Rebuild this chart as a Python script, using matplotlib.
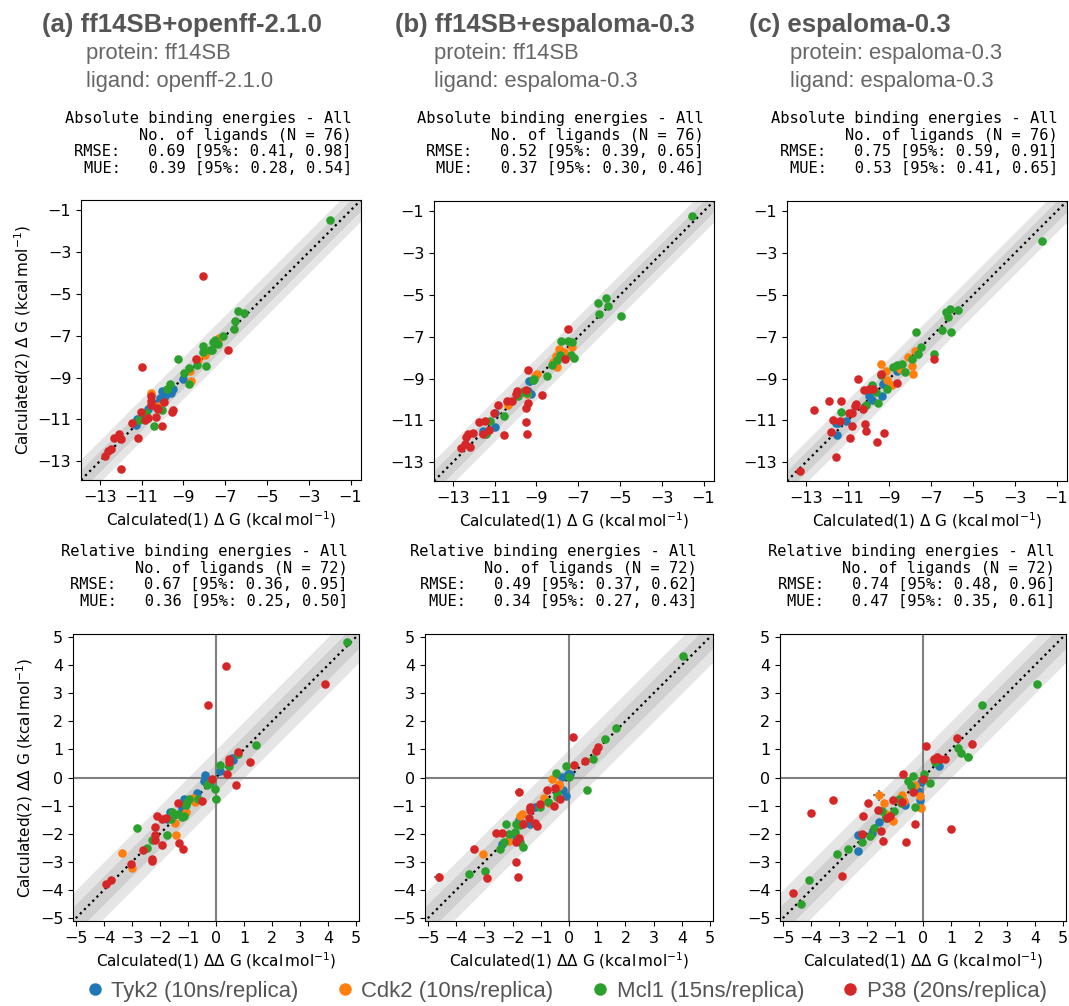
import matplotlib
matplotlib.use("Agg")
import matplotlib.pyplot as plt
from matplotlib.lines import Line2D

# ---------------------------------------------------------------- data
series_names = ["Tyk2", "Cdk2", "Mcl1", "P38"]
series_labels = ["Tyk2 (10ns/replica)", "Cdk2 (10ns/replica)",
                 "Mcl1 (15ns/replica)", "P38 (20ns/replica)"]
series_colors = ["#1f77b4", "#ff7f0e", "#2ca02c", "#d62728"]

panel_titles = ["(a) ff14SB+openff-2.1.0", "(b) ff14SB+espaloma-0.3", "(c) espaloma-0.3"]
protein_ff = ["ff14SB", "ff14SB", "espaloma-0.3"]
ligand_ff = ["openff-2.1.0", "espaloma-0.3", "espaloma-0.3"]

n_abs = 76
n_rel = 72
# RMSE, lower, upper / MUE, lower, upper
abs_rmse = [(0.69, 0.41, 0.98), (0.52, 0.39, 0.65), (0.75, 0.59, 0.91)]
abs_mue = [(0.39, 0.28, 0.54), (0.37, 0.30, 0.46), (0.53, 0.41, 0.65)]
rel_rmse = [(0.67, 0.36, 0.95), (0.49, 0.37, 0.62), (0.74, 0.48, 0.96)]
rel_mue = [(0.36, 0.25, 0.50), (0.34, 0.27, 0.43), (0.47, 0.35, 0.61)]

# (calc1, calc2[, uncertainty]) in kcal/mol
abs_a_tyk2 = [(-9.04, -9.06), (-10.0, -9.65), (-9.51, -9.54), (-9.61, -9.73), (-9.89, -9.89),
              (-10.13, -9.97), (-10.28, -10.21), (-10.70, -10.50), (-10.98, -10.74),
              (-11.21, -10.98), (-11.29, -11.25)]
abs_a_cdk2 = [(-7.29, -7.10), (-8.00, -7.79), (-7.95, -7.93), (-8.28, -8.17), (-8.70, -8.70),
              (-8.65, -9.14), (-10.55, -9.73), (-10.20, -10.37)]
abs_a_mcl1 = [(-1.98, -1.48), (-6.40, -5.83), (-6.09, -5.91), (-6.51, -6.31), (-6.56, -6.67),
              (-7.10, -7.02), (-7.33, -7.37), (-7.49, -7.18), (-7.57, -7.31), (-7.64, -7.66),
              (-7.72, -7.69), (-8.06, -7.50), (-8.08, -7.79), (-7.92, -8.46), (-9.27, -8.09),
              (-8.34, -8.38), (-8.73, -8.54), (-8.96, -8.78), (-9.63, -9.30), (-9.77, -9.54),
              (-8.73, -9.29), (-10.02, -10.56), (-10.42, -11.33), (-11.14, -11.01), (-10.80, -10.70)]
abs_a_p38 = [(-8.08, -4.14), (-10.98, -8.49), (-6.87, -7.69), (-8.42, -8.11), (-10.55, -9.89),
             (-10.55, -10.13), (-10.55, -10.29), (-9.93, -10.16), (-11.01, -10.66), (-10.28, -10.45),
             (-10.20, -10.52), (-9.51, -10.53), (-9.55, -10.66), (-10.67, -10.93), (-10.83, -11.01),
             (-10.33, -10.90), (-10.00, -11.33), (-11.45, -11.17), (-11.17, -11.88), (-12.30, -11.88),
             (-12.07, -11.72), (-11.99, -11.93), (-12.46, -12.44), (-12.61, -12.52), (-12.77, -12.73),
             (-11.99, -13.35)]

abs_b_tyk2 = [(-9.36, -9.13), (-9.26, -9.73), (-9.39, -9.57), (-9.63, -9.65), (-9.15, -9.06),
              (-10.98, -10.66), (-10.98, -11.33), (-11.54, -11.49)]
abs_b_cdk2 = [(-7.30, -7.50), (-7.91, -7.58), (-7.70, -7.74), (-8.07, -7.93), (-8.03, -8.46),
              (-8.19, -8.19), (-8.99, -8.78), (-9.07, -8.86), (-9.47, -9.73), (-10.34, -10.24)]
abs_b_mcl1 = [(-1.54, -1.21), (-5.69, -5.16), (-6.04, -5.38), (-5.57, -5.54), (-5.99, -5.91),
              (-4.96, -6.02), (-7.80, -7.22), (-7.48, -7.22), (-7.29, -7.26), (-7.35, -7.85),
              (-7.19, -8.03), (-7.88, -7.85), (-8.03, -8.09), (-8.27, -8.35), (-8.51, -8.89),
              (-9.10, -9.02), (-9.18, -9.06), (-9.58, -9.57), (-9.47, -9.69), (-9.86, -9.84),
              (-10.53, -10.77), (-11.22, -11.01), (-11.41, -11.65)]
abs_b_p38 = [(-7.48, -6.63, 0.12), (-7.64, -8.06), (-8.75, -9.78), (-9.42, -8.59), (-9.51, -9.54),
             (-9.94, -9.57), (-9.99, -9.73), (-10.42, -10.05), (-10.18, -10.08), (-10.82, -10.24),
             (-9.42, -10.16), (-9.51, -10.40), (-11.01, -10.66), (-9.51, -11.06), (-9.47, -11.65),
             (-10.53, -11.68), (-11.27, -11.44), (-11.46, -11.04), (-11.76, -11.10), (-12.01, -11.60),
             (-12.25, -11.65), (-12.36, -11.80), (-12.20, -12.28), (-12.62, -12.33), (-12.41, -12.12),
             (-11.54, -11.65)]

abs_c_tyk2 = [(-8.63, -8.65), (-9.26, -9.19), (-9.31, -9.27), (-9.98, -9.83), (-9.82, -10.04),
              (-9.34, -9.83), (-11.06, -11.03), (-11.57, -11.13), (-11.44, -11.11), (-11.52, -11.69)]
abs_c_cdk2 = [(-9.39, -8.31, 0.12), (-8.12, -7.96), (-7.79, -7.69), (-7.91, -8.39), (-7.88, -8.76),
              (-8.47, -8.52), (-9.18, -8.65), (-9.11, -9.05), (-8.87, -9.29)]
abs_c_mcl1 = [(-1.68, -2.41), (-6.12, -5.67), (-5.73, -5.72), (-6.29, -5.83), (-6.20, -6.04),
              (-6.48, -6.65), (-6.05, -6.76), (-7.74, -6.79), (-7.51, -7.48), (-7.64, -7.83),
              (-6.88, -7.80), (-7.94, -8.04), (-8.42, -8.31), (-8.63, -8.36), (-8.82, -8.44),
              (-8.23, -8.68), (-9.85, -9.32), (-9.11, -9.48), (-9.42, -8.84), (-9.66, -9.64),
              (-9.53, -10.15), (-10.14, -10.25), (-11.33, -10.60)]
abs_c_p38 = [(-6.88, -8.04), (-8.63, -9.21), (-10.50, -9.03), (-9.42, -8.76), (-10.22, -9.53),
             (-9.98, -9.51), (-9.79, -9.51), (-11.89, -10.07), (-11.33, -10.07), (-10.62, -10.20),
             (-10.65, -10.31), (-10.25, -10.44), (-12.63, -10.52), (-10.93, -10.65), (-10.77, -10.63),
             (-11.38, -11.03), (-11.70, -10.97), (-10.81, -11.27), (-10.17, -11.16), (-10.11, -11.53),
             (-11.81, -11.56), (-9.26, -11.59), (-10.89, -11.85), (-9.58, -12.01), (-11.54, -12.76),
             (-13.29, -13.40)]

rel_a_tyk2 = [(-0.40, 0.08), (-0.43, -0.14), (-0.21, -0.19), (0.13, 0.23), (0.56, 0.70), (0.60, 0.62),
              (-0.69, -0.55), (-1.14, -0.78), (-1.22, -1.08), (-1.65, -1.23), (-1.73, -1.47)]
rel_a_cdk2 = [(-0.81, -0.72), (-0.75, -0.88), (-1.08, -1.22), (-1.47, -1.61, 0.10), (-1.44, -2.06),
              (-3.37, -2.68), (-3.01, -3.21, 0.12)]
rel_a_mcl1 = [(4.67, 4.81), (1.44, 1.14), (0.78, 0.82), (0.46, 0.40), (0.13, 0.46), (-0.25, -0.19),
              (-0.31, -0.25), (-0.04, -0.40), (0.01, -0.76, 0.15), (-0.63, -0.78), (-0.96, -0.78),
              (-1.02, -0.88), (-1.08, -0.96), (-1.14, -1.37), (-1.22, -1.40), (-1.34, -1.28),
              (-1.58, -1.23), (-1.61, -1.49), (-1.76, -2.03), (-2.27, -2.23), (-2.47, -2.50),
              (-2.82, -1.79)]
rel_a_p38 = [(0.37, 3.96, 0.12), (-0.30, 2.56), (3.90, 3.34), (0.79, 0.90), (0.46, 0.66), (0.46, 0.55),
             (1.23, 0.55), (0.38, 0.14), (-0.13, -0.05), (0.72, -0.27), (-0.51, -0.84), (-1.34, -0.90),
             (-2.12, -1.37), (-1.93, -1.49), (-1.79, -1.43), (-2.19, -1.75), (-2.19, -2.06),
             (-2.18, -2.23), (-2.60, -2.56), (-1.93, -2.41), (-1.33, -2.32), (-1.16, -2.54),
             (-2.30, -2.89), (-2.30, -2.95), (-3.04, -3.09), (-3.75, -3.63), (-3.93, -3.80)]

rel_b_tyk2 = [(-0.04, 0.14), (0.05, 0.11), (-0.24, 0.01), (-0.21, -0.45), (-0.09, -0.64), (-1.22, -1.04),
              (-1.78, -1.52), (-1.37, -1.66), (-2.38, -2.37), (-1.87, -2.14)]
rel_b_cdk2 = [(-0.59, -0.07), (-0.36, -0.22), (-0.37, -0.31), (-0.89, -0.72), (-0.71, -0.90),
              (-1.66, -1.29), (-1.75, -1.37), (-2.11, -2.25), (-3.03, -2.73, 0.10)]
rel_b_mcl1 = [(4.05, 4.32, 0.10), (1.66, 1.76), (1.27, 1.37), (0.85, 0.64), (0.62, -0.46), (-0.12, 0.40),
              (-0.47, 0.17), (0.00, 0.02), (-0.41, -0.54), (-0.43, -0.68), (-0.75, -0.87), (-1.04, -1.04),
              (-1.75, -1.69), (-2.22, -1.66), (-1.89, -1.64), (-1.93, -1.94), (-2.11, -2.02),
              (-2.31, -2.29), (-2.46, -2.55), (-1.63, -2.47), (-1.75, -2.31), (-2.96, -3.32),
              (-3.55, -3.44)]
rel_b_p38 = [(0.14, 1.43, 0.12), (0.17, 0.43), (0.56, 0.60), (1.03, 1.09), (0.97, 0.93), (-0.33, -0.78),
             (-0.49, -0.37), (-0.77, -0.45), (-0.54, -1.02), (-1.02, -0.93), (-1.37, -1.04),
             (-1.37, -1.16), (-1.43, -1.45), (-1.22, -1.61), (-1.12, -1.72), (-1.63, -1.64),
             (-1.78, -0.51, 0.12), (-1.78, -2.14), (-1.87, -2.29), (-2.37, -1.98), (-2.60, -1.98),
             (-3.35, -2.55, 0.10), (-1.87, -2.99), (-1.81, -3.55), (-2.91, -3.58, 0.10),
             (-4.62, -3.55, 0.15)]

rel_c_tyk2 = [(0.56, 0.40), (-0.07, -0.17), (-0.18, -0.48), (-0.12, -0.80), (-0.63, -0.98),
              (-1.57, -1.57), (-1.83, -1.96), (-2.32, -2.05), (-2.20, -2.08), (-2.32, -2.61)]
rel_c_cdk2 = [(-1.57, -0.63, 0.20), (-1.40, -0.92), (-0.75, -0.63), (-0.30, -0.25), (-0.09, -0.66),
              (-0.07, -1.07), (-0.66, -0.84), (-1.08, -1.55), (-1.31, -1.31)]
rel_c_mcl1 = [(4.07, 3.32, 0.12), (2.12, 2.59), (1.24, 1.05), (1.35, 0.87), (1.62, 0.73, 0.15),
              (0.44, 0.55), (0.02, 0.11), (-0.36, 0.07), (-0.53, -0.11), (-0.43, -0.31), (0.26, -0.19),
              (-0.30, -1.04), (-0.78, -0.90), (-0.86, -0.78), (-1.04, -1.19), (-1.48, -1.19),
              (-1.31, -1.45), (-1.75, -1.78), (-1.89, -2.08), (-2.17, -2.29), (-2.67, -2.55),
              (-3.08, -2.73), (-4.08, -3.65), (-4.36, -4.50)]
rel_c_p38 = [(0.12, 1.13), (1.21, 1.40), (1.76, 1.20, 0.12), (0.38, 0.66), (0.50, 0.72), (0.62, 0.66),
             (0.79, 0.66), (0.00, -0.07), (-0.72, 0.11), (-0.37, -0.51), (-1.08, -0.80), (-0.75, -0.86),
             (-1.18, -1.37), (-1.28, -1.43), (-1.59, -1.17), (-1.96, -0.90), (-2.14, -1.37),
             (-3.21, -0.81, 0.12), (-3.98, -1.25), (-1.49, -1.90), (-2.17, -2.02), (-1.43, -2.25, 0.12),
             (-0.60, -2.31), (-0.27, -1.66), (1.01, -1.82), (-2.88, -3.49), (-4.63, -4.11, 0.12)]

abs_panels = [
    [abs_a_tyk2, abs_a_cdk2, abs_a_mcl1, abs_a_p38],
    [abs_b_tyk2, abs_b_cdk2, abs_b_mcl1, abs_b_p38],
    [abs_c_tyk2, abs_c_cdk2, abs_c_mcl1, abs_c_p38],
]
rel_panels = [
    [rel_a_tyk2, rel_a_cdk2, rel_a_mcl1, rel_a_p38],
    [rel_b_tyk2, rel_b_cdk2, rel_b_mcl1, rel_b_p38],
    [rel_c_tyk2, rel_c_cdk2, rel_c_mcl1, rel_c_p38],
]

abs_ticks = [-13, -11, -9, -7, -5, -3, -1]
rel_ticks = [-5, -4, -3, -2, -1, 0, 1, 2, 3, 4, 5]
abs_lim = (-13.9, -0.5)
rel_lim = (-5.1, 5.1)
rel_diag = (-5, 5)

# ---------------------------------------------------------------- layout
W, H = 1069, 1006
fig = plt.figure(figsize=(W / 100, H / 100), dpi=100)


def box(left, top, width, height):
    return [left / W, 1 - (top + height) / H, width / W, height / H]


def fxy(x, y):
    return x / W, 1 - y / H


abs_boxes = [box(81, 200, 280, 280), box(434, 201, 280, 280), box(787, 201, 280, 280)]
rel_boxes = [box(73, 634, 286, 287), box(425, 634, 288, 287), box(780, 634, 286, 287)]

title_x = [42, 395, 749]
sub_x = [86, 434, 790]
abs_stats_right = [352, 704, 1058]
rel_stats_right = [348, 697, 1055]

sans = ["Liberation Sans", "DejaVu Sans"]
mono = ["DejaVu Sans Mono"]


def draw_panel(ax, groups, lim, diag, ticks, zero_lines, xlabel, ylabel):
    lo, hi = lim
    ax.fill_between([lo, hi], [lo - 1, hi - 1], [lo + 1, hi + 1],
                    color="grey", alpha=0.2, lw=0, zorder=0)
    ax.fill_between([lo, hi], [lo - 0.5, hi - 0.5], [lo + 0.5, hi + 0.5],
                    color="grey", alpha=0.2, lw=0, zorder=0)
    if zero_lines:
        ax.axhline(0, color="grey", lw=1.5, zorder=1)
        ax.axvline(0, color="grey", lw=1.5, zorder=1)
    ax.plot(diag, diag, ls=":", color="black", lw=1.6, zorder=1)
    for pts, col in zip(groups, series_colors):
        xs = [p[0] for p in pts]
        ys = [p[1] for p in pts]
        err = [p for p in pts if len(p) == 3]
        if err:
            ax.errorbar([p[0] for p in err], [p[1] for p in err],
                        xerr=[p[2] for p in err], yerr=[p[2] for p in err],
                        fmt="none", ecolor="grey", elinewidth=1.6, capsize=0, zorder=2)
        ax.scatter(xs, ys, s=38, color=col, linewidths=0, zorder=3)
    ax.set_xlim(lim)
    ax.set_ylim(lim)
    ax.set_xticks(ticks)
    ax.set_yticks(ticks)
    ax.tick_params(labelsize=11.5)
    ax.set_xlabel(xlabel, fontsize=11, labelpad=3)
    if ylabel:
        ax.set_ylabel(ylabel, fontsize=11, labelpad=3)


def stats_text(kind, n, rmse, mue):
    return (f"{kind} binding energies - All\n"
            f"No. of ligands (N = {n})\n"
            f"RMSE:   {rmse[0]:.2f} [95%: {rmse[1]:.2f}, {rmse[2]:.2f}]\n"
            f"MUE:   {mue[0]:.2f} [95%: {mue[1]:.2f}, {mue[2]:.2f}]")


unit = r"(kcal$\,$mol$^{-1}$)"
for i in range(3):
    # headings
    fig.text(*fxy(title_x[i], 32), panel_titles[i], family=sans, fontsize=18.5,
             fontweight="bold", color="#555555", va="baseline")
    fig.text(*fxy(sub_x[i], 59), f"protein: {protein_ff[i]}", family=sans,
             fontsize=15.8, color="#666666", va="baseline")
    fig.text(*fxy(sub_x[i], 87), f"ligand: {ligand_ff[i]}", family=sans,
             fontsize=15.8, color="#666666", va="baseline")

    # absolute free energies
    ax = fig.add_axes(abs_boxes[i])
    draw_panel(ax, abs_panels[i], abs_lim, abs_lim, abs_ticks, False,
               "Calculated(1) \u0394 G " + unit,
               ("Calculated(2) \u0394 G " + unit) if i == 0 else None)
    fig.text(*fxy(abs_stats_right[i], 111), stats_text("Absolute", n_abs, abs_rmse[i], abs_mue[i]),
             family=mono, fontsize=11.1, ha="right", va="top", multialignment="right",
             linespacing=1.13)

    # relative free energies
    ax = fig.add_axes(rel_boxes[i])
    draw_panel(ax, rel_panels[i], rel_lim, rel_diag, rel_ticks, True,
               "Calculated(1) \u0394\u0394 G " + unit,
               ("Calculated(2) \u0394\u0394 G " + unit) if i == 0 else None)
    fig.text(*fxy(rel_stats_right[i], 544), stats_text("Relative", n_rel, rel_rmse[i], rel_mue[i]),
             family=mono, fontsize=11.1, ha="right", va="top", multialignment="right",
             linespacing=1.13)

handles = [Line2D([], [], ls="", marker="o", markersize=9, markeredgewidth=0, color=c)
           for c in series_colors]
fig.legend(handles, series_labels, loc="center", bbox_to_anchor=fxy(568, 991), ncol=4,
           frameon=False, prop={"family": sans, "size": 15.9}, labelcolor="#555555",
           handlelength=0.5, handletextpad=0.5, columnspacing=1.85, borderpad=0,
           borderaxespad=0)

fig.savefig("out.png", dpi=100)
